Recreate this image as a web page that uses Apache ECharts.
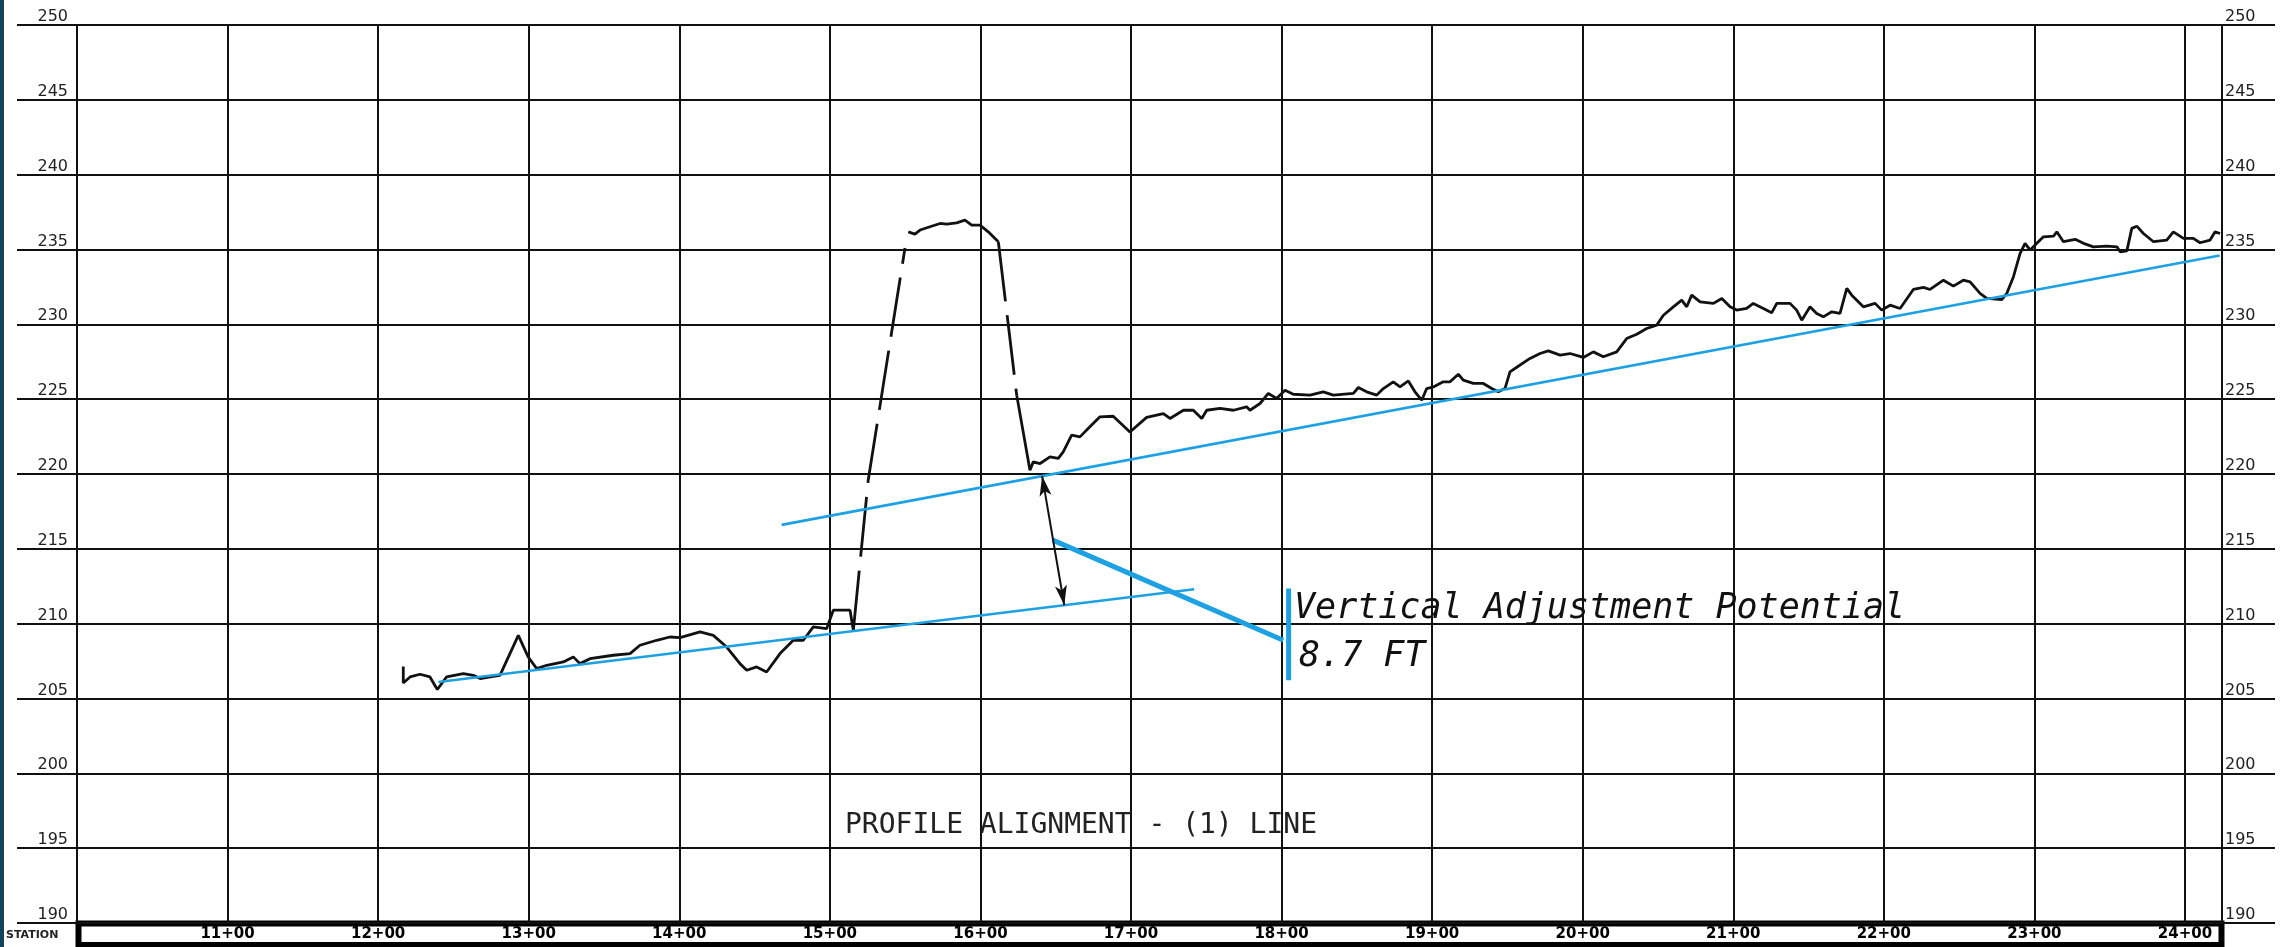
<!DOCTYPE html>
<html>
<head>
<meta charset="utf-8">
<script src="https://cdn.jsdelivr.net/npm/echarts@6/dist/echarts.min.js"></script>
<style>
html,body{margin:0;padding:0;background:#fff;}
#c{width:2293px;height:947px;}
</style>
</head>
<body>
<div id="c"></div>
<script>
// ---- Data (station in feet, elevation in feet) ----
const elevationTicks = [190, 195, 200, 205, 210, 215, 220, 225, 230, 235, 240, 245, 250];

// Existing ground profile, solid segment before the dip
const profileAStation = [1216.7,1216.7,1221.2,1227.8,1234.4,1239.3,1245.5,1256.6,1263.2,1267.7,1276.5,1280.9,1293.1,1299.7,1305.3,1312,1323,1329.6,1334,1340.7,1356.2,1367.3,1373.9,1385,1393.8,1400.5,1413.8,1422.6,1431.5,1440.3,1444.8,1451.4,1458,1466.9,1475.7,1482.4,1489,1497.9,1502.3,1513.4,1515.6];
const profileAElev    = [207.13,206.04,206.44,206.62,206.44,205.6,206.44,206.66,206.55,206.33,206.48,206.55,209.22,207.77,207.0,207.22,207.44,207.78,207.33,207.66,207.89,208.0,208.56,208.89,209.11,209.07,209.45,209.22,208.44,207.33,206.89,207.11,206.77,208.0,208.89,208.89,209.78,209.67,210.9,210.9,209.56];

// Dashed (unsurveyed) rise
const dashUpStation = [1515.6, 1525.5, 1549.9];
const dashUpElev    = [209.56, 219.6, 235.1];

// Raised top segment
const profileBStation = [1552.1,1556.5,1559.9,1566.5,1573.2,1577.6,1584.2,1589.7,1594.2,1599.7,1605.2,1611.9];
const profileBElev    = [236.18,236.03,236.3,236.52,236.74,236.7,236.78,236.96,236.63,236.63,236.18,235.52];

// Dashed fall
const dashDownStation = [1611.9, 1624.1];
const dashDownElev    = [235.52, 225.27];

// Solid segment after the dip
const profileCStation = [1624.1,1632.9,1635.1,1639.6,1646.2,1651.7,1655,1660.6,1666.1,1672.7,1679.4,1688.2,1699.3,1710.4,1721.5,1725.9,1734.8,1741.4,1747,1750.3,1759.1,1768,1776.8,1779,1785.7,1791.2,1796.7,1802.3,1807.8,1818.9,1827.7,1834.4,1847.7,1851,1856.5,1863.2,1867.6,1874.2,1878.7,1884.2,1888.6,1893.1,1896.4,1900.8,1907.4,1911.9,1917.4,1920.7,1927.4,1934,1939.6,1944,1948.4,1951.7,1957.2,1965,1971.7,1977.2,1985,1991.6,2000.4,2007.1,2013.7,2022.6,2029.2,2035.9,2042.5,2049.2,2053.6,2060.2,2065.8,2069.1,2072.4,2078,2086.8,2092.4,2097.9,2102.3,2108.9,2113.3,2120,2125.5,2128.9,2137.7,2142.1,2145.5,2151,2155.4,2159.8,2165.4,2170.9,2175.4,2178.7,2186.4,2194.2,2198.6,2204.2,2210.8,2219.6,2226.3,2230.7,2239.6,2246.2,2252.8,2257.3,2263.9,2268.4,2278.3,2281.7,2286.1,2290.5,2293.8,2297.2,2301.6,2306,2312.7,2314.9,2319.3,2327.1,2332.6,2339.2,2348.1,2354.8,2357,2361.4,2364.7,2368,2372.4,2379.1,2387.9,2392.3,2399,2405.6,2410,2416.7,2420,2423.3];
const profileCElev    = [225.27,220.25,220.81,220.7,221.15,221.04,221.48,222.59,222.48,223.15,223.82,223.86,222.81,223.78,224.04,223.71,224.26,224.26,223.71,224.26,224.38,224.26,224.49,224.26,224.71,225.38,225.05,225.6,225.33,225.27,225.49,225.27,225.38,225.78,225.49,225.27,225.71,226.16,225.82,226.22,225.49,224.93,225.71,225.82,226.16,226.16,226.67,226.27,226.05,226.05,225.71,225.49,225.71,226.82,227.2,227.72,228.05,228.23,227.94,228.05,227.79,228.16,227.83,228.16,229.05,229.34,229.72,229.95,230.61,231.17,231.62,231.17,231.95,231.5,231.4,231.73,231.17,230.95,231.06,231.4,231.06,230.77,231.4,231.4,230.95,230.28,231.17,230.73,230.5,230.84,230.73,232.4,231.95,231.17,231.4,230.95,231.28,231.06,232.33,232.47,232.33,232.95,232.55,232.95,232.84,232.07,231.73,231.66,232.07,233.18,234.74,235.41,234.96,235.41,235.85,235.9,236.18,235.52,235.68,235.41,235.18,235.23,235.18,234.85,234.91,236.41,236.56,236.07,235.52,235.63,236.18,235.74,235.74,235.45,235.63,236.18,236.07];

// Blue grade lines and annotation
const upperGradeStation = [1468, 2423];
const upperGradeElev    = [216.6, 234.6];
const lowerGradeStation = [1240, 1742];
const lowerGradeElev    = [206.1, 212.3];
const leaderStation = [1648.1, 1801.1];
const leaderElev    = [215.58, 208.89];
const barStation = [1804.7, 1804.7];
const barElev    = [212.35, 206.22];
const arrowStation = [1641, 1655.7];
const arrowElev    = [219.86, 211.23];

const annotationTitle = 'Vertical Adjustment Potential';
const annotationValue = '8.7 FT';
const profileTitle = 'PROFILE ALIGNMENT - (1) LINE';

// ---- Helpers ----
const zip = (a, b) => a.map((v, i) => [v, b[i]]);
const stationLabel = v => (Math.abs(v % 100) < 1e-6 && v > 1000) ? (Math.round(v / 100) + '+00') : '';

const BLACK = '#111';
const BLUE = '#1da1e3';

const chart = echarts.init(document.getElementById('c'));

const lineSeries = (data, style) => ({
  type: 'line', data, showSymbol: false, symbol: 'none', silent: true,
  lineStyle: style, animation: false, z: 3
});

chart.setOption({
  animation: false,
  backgroundColor: '#fff',
  grid: { left: 77, right: 71, top: 25, bottom: 24, outerBoundsMode: 'none', containLabel: false },
  xAxis: {
    type: 'value', min: 1000, max: 2424.6, interval: 100,
    axisLine: { show: false }, axisTick: { show: false },
    splitLine: { show: true, lineStyle: { color: BLACK, width: 2 } },
    axisLabel: { formatter: stationLabel, margin: 4, color: '#000', fontSize: 15, fontWeight: 'bold', fontFamily: 'DejaVu Sans' }
  },
  yAxis: [
    {
      type: 'value', position: 'left', min: 190, max: 250, interval: 5,
      axisLine: { show: true, lineStyle: { color: BLACK, width: 2 } },
      axisTick: { show: true, length: 60, inside: false, lineStyle: { color: BLACK, width: 2 } },
      splitLine: { show: true, lineStyle: { color: BLACK, width: 2 } },
      axisLabel: { margin: 9, color: '#222', fontSize: 16, fontFamily: 'DejaVu Sans', verticalAlign: 'bottom',
        formatter: v => elevationTicks.includes(v) ? String(v) : '' }
    },
    {
      type: 'value', position: 'right', min: 190, max: 250, interval: 5,
      axisLine: { show: true, lineStyle: { color: BLACK, width: 2 } },
      axisTick: { show: true, length: 53, inside: false, lineStyle: { color: BLACK, width: 2 } },
      splitLine: { show: false },
      axisLabel: { margin: 3, color: '#222', fontSize: 16, fontFamily: 'DejaVu Sans', verticalAlign: 'bottom',
        formatter: v => elevationTicks.includes(v) ? String(v) : '' }
    }
  ],
  series: [
    lineSeries(zip(profileAStation, profileAElev), { color: BLACK, width: 2.8 }),
    lineSeries(zip(dashUpStation, dashUpElev), { color: BLACK, width: 2.8, type: [60, 14] }),
    lineSeries(zip(profileBStation, profileBElev), { color: BLACK, width: 2.8 }),
    lineSeries(zip(dashDownStation, dashDownElev), { color: BLACK, width: 2.8, type: [60, 14] }),
    lineSeries(zip(profileCStation, profileCElev), { color: BLACK, width: 2.8 }),
    lineSeries(zip(upperGradeStation, upperGradeElev), { color: BLUE, width: 2.6 }),
    Object.assign(lineSeries(zip(lowerGradeStation, lowerGradeElev), { color: BLUE, width: 2.6 }), {
      markLine: {
        silent: true, animation: false,
        symbol: ['arrow', 'arrow'], symbolSize: [9, 20],
        label: { show: false },
        lineStyle: { color: BLACK, width: 2, type: 'solid' },
        emphasis: { disabled: true },
        data: [[{ coord: [arrowStation[0], arrowElev[0]] }, { coord: [arrowStation[1], arrowElev[1]] }]]
      }
    }),
    lineSeries(zip(leaderStation, leaderElev), { color: BLUE, width: 5 }),
    lineSeries(zip(barStation, barElev), { color: BLUE, width: 5, cap: 'butt' })
  ],
  graphic: [
    { type: 'rect', z: 100, shape: { x: 0, y: 0, width: 4, height: 947 }, style: { fill: '#15435f' } },
    { type: 'rect', z: -1, shape: { x: 78.5, y: 923.5, width: 2143, height: 21.5 }, style: { fill: '#fff', stroke: '#000', lineWidth: 6 } },
    { type: 'text', z: 100, x: 6, y: 935, style: { text: 'STATION', font: 'bold 11px "DejaVu Sans"', fill: '#222', textAlign: 'left', textVerticalAlign: 'middle' } },
    { type: 'text', z: 100, x: 1294, y: 609, style: { text: annotationTitle, font: 'italic 35px "DejaVu Sans Mono"', fill: BLACK, textAlign: 'left', textVerticalAlign: 'middle' } },
    { type: 'text', z: 100, x: 1299, y: 657, style: { text: annotationValue, font: 'italic 35px "DejaVu Sans Mono"', fill: BLACK, textAlign: 'left', textVerticalAlign: 'middle' } },
    { type: 'text', z: 100, x: 845, y: 826, style: { text: profileTitle, font: '28px "DejaVu Sans Mono"', fill: '#222', textAlign: 'left', textVerticalAlign: 'middle' } }
  ]
});
</script>
</body>
</html>
